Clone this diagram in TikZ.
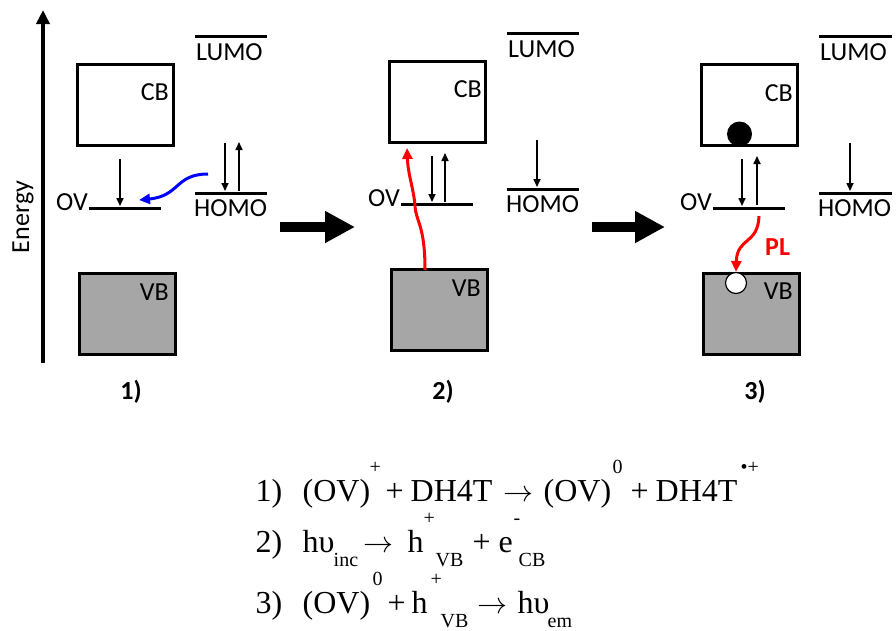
\documentclass[tikz,border=0pt]{standalone}
\usepackage{graphicx}
\usepackage{fontspec}
\setmainfont{Liberation Serif}
\newfontfamily\carl{Carlito}
\usetikzlibrary{arrows.meta}
\definecolor{vbgray}{HTML}{A6A6A6}
\definecolor{pblue}{HTML}{0000FF}
\definecolor{pred}{HTML}{FF0000}
\newcommand\pc[2]{\rlap{\hspace*{\dimexpr #1pt-255pt\relax}#2}}
\newcommand\upx[1]{\raisebox{28pt}{\fontsize{20}{20}\selectfont #1}}
\newcommand\dnx[1]{\raisebox{-14pt}{\fontsize{20}{20}\selectfont #1}}
\newcommand\rarr{\resizebox{30pt}{!}{\normalsize$\rightarrow$}}
\begin{document}
\begin{tikzpicture}[x=1pt,y=-1pt,
  lbl/.style={font=\carl\fontsize{26}{26}\selectfont, inner sep=0pt},
  steplbl/.style={font=\carl\bfseries\fontsize{26}{26}\selectfont, inner sep=0pt},
  eq/.style={font=\fontsize{32}{32}\selectfont, inner sep=0pt, anchor=base west},
  cbbox/.style={draw, line width=3pt, minimum width=96pt, minimum height=81pt, inner sep=0pt},
  vbbox/.style={cbbox, fill=vbgray},
  lvl/.style={line width=3pt},
  sarr/.style={line width=1.6pt, -{Triangle[length=8pt,width=7pt]}},
  axis/.style={line width=4pt, -{Triangle[length=14pt,width=13pt]}},
  blockarr/.style={line width=10pt, -{Triangle[length=30pt,width=30pt]}},
  carr/.style={line width=3pt, -{Triangle[length=11pt,width=10pt]}},
]
\fill[white] (0,0) rectangle (896,630);
\useasboundingbox (0,0) rectangle (896,630);

% energy axis
\coordinate (ax0) at (43,363);
\coordinate (ax1) at (43,10);
\draw[axis] (ax0) -- (ax1);
\node[lbl, rotate=90, anchor=base] (energy) at (29,217) {Energy};

% ---------- panel 1 ----------
\node[cbbox] (cb1) at (125,105) {};
\node[vbbox] (vb1) at (127,314) {};
\node[lbl, anchor=base east] (cbt1) at (169,100) {CB};
\node[lbl, anchor=base east] (vbt1) at (169,300) {VB};
\coordinate (ov1a) at (89,208); \coordinate (ov1b) at (161,208);
\draw[lvl] (ov1a) -- (ov1b);
\node[lbl, anchor=base east] (ovt1) at (88,210) {OV};
\coordinate (lu1a) at (195,36); \coordinate (lu1b) at (267,36);
\draw[lvl] (lu1a) -- (lu1b);
\node[lbl, anchor=base west] (lut1) at (196,60) {LUMO};
\coordinate (ho1a) at (195,193); \coordinate (ho1b) at (267,193);
\draw[lvl] (ho1a) -- (ho1b);
\node[lbl, anchor=base west] (hot1) at (194,216) {HOMO};
\coordinate (a1s) at (120,159); \coordinate (a1e) at (120,206);
\draw[sarr] (a1s) -- (a1e);
\coordinate (a2s) at (225,143); \coordinate (a2e) at (225,191);
\draw[sarr] (a2s) -- (a2e);
\coordinate (a3s) at (239,191); \coordinate (a3e) at (239,142);
\draw[sarr] (a3s) -- (a3e);
\coordinate (bl1) at (208,174); \coordinate (bl2) at (139,200);
\draw[carr, pblue] (bl1) .. controls (175,174) and (180,196) .. (bl2);
\node[steplbl, anchor=base] (s1) at (131,399) {1)};

% block arrow 1
\coordinate (b1s) at (280,227); \coordinate (b1e) at (355,227);
\draw[blockarr] (b1s) -- (b1e);

% ---------- panel 2 ----------
\node[cbbox] (cb2) at (437,102) {};
\node[vbbox] (vb2) at (439,310) {};
\node[lbl, anchor=base east] (cbt2) at (482,97) {CB};
\node[lbl, anchor=base east] (vbt2) at (481,296) {VB};
\coordinate (ov2a) at (401,204); \coordinate (ov2b) at (473,204);
\draw[lvl] (ov2a) -- (ov2b);
\node[lbl, anchor=base east] (ovt2) at (400,206) {OV};
\coordinate (lu2a) at (507,33); \coordinate (lu2b) at (579,33);
\draw[lvl] (lu2a) -- (lu2b);
\node[lbl, anchor=base west] (lut2) at (508,57) {LUMO};
\coordinate (ho2a) at (507,189); \coordinate (ho2b) at (579,189);
\draw[lvl] (ho2a) -- (ho2b);
\node[lbl, anchor=base west] (hot2) at (506,212) {HOMO};
\coordinate (a4s) at (432,156); \coordinate (a4e) at (432,202);
\draw[sarr] (a4s) -- (a4e);
\coordinate (a5s) at (445,202); \coordinate (a5e) at (445,153);
\draw[sarr] (a5s) -- (a5e);
\coordinate (a6s) at (537,140); \coordinate (a6e) at (537,187);
\draw[sarr] (a6s) -- (a6e);
\coordinate (rd1) at (425,270); \coordinate (rd2) at (407,148);
\draw[carr, pred] (rd1) .. controls (425,225) and (416,222) .. (415,206)
  .. controls (414,190) and (408,175) .. (rd2);
\node[steplbl, anchor=base] (s2) at (443,399) {2)};

% block arrow 2
\coordinate (b2s) at (592,227); \coordinate (b2e) at (665,227);
\draw[blockarr] (b2s) -- (b2e);

% ---------- panel 3 ----------
\node[cbbox] (cb3) at (749,105) {};
\node[vbbox] (vb3) at (751,314) {};
\node[lbl, anchor=base east] (cbt3) at (793,101) {CB};
\node[lbl, anchor=base east] (vbt3) at (793,299) {VB};
\node[circle, fill=black, minimum size=25pt, inner sep=0pt] (el3) at (739.5,134) {};
\node[circle, draw, fill=white, line width=1.2pt, minimum size=21pt, inner sep=0pt] (ho3) at (736,283) {};
\coordinate (ov3a) at (713,208); \coordinate (ov3b) at (785,208);
\draw[lvl] (ov3a) -- (ov3b);
\node[lbl, anchor=base east] (ovt3) at (712,210) {OV};
\coordinate (lu3a) at (819,36); \coordinate (lu3b) at (892,36);
\draw[lvl] (lu3a) -- (lu3b);
\node[lbl, anchor=base west] (lut3) at (820,60) {LUMO};
\coordinate (ho3a) at (819,193); \coordinate (ho3b) at (892,193);
\draw[lvl] (ho3a) -- (ho3b);
\node[lbl, anchor=base west] (hot3) at (818,216) {HOMO};
\coordinate (a7s) at (742,159); \coordinate (a7e) at (742,206);
\draw[sarr] (a7s) -- (a7e);
\coordinate (a8s) at (757,205); \coordinate (a8e) at (757,156);
\draw[sarr] (a8s) -- (a8e);
\coordinate (a9s) at (850,143); \coordinate (a9e) at (850,191);
\draw[sarr] (a9s) -- (a9e);
\coordinate (pl1) at (759,216);
\draw[carr, pred] (pl1) .. controls (758,245) and (737,237) .. (ho3.north);
\node[lbl, font=\carl\bfseries\fontsize{26}{26}\selectfont, text=pred, anchor=base west] (plt) at (765,255) {PL};
\node[steplbl, anchor=base] (s3) at (755,399) {3)};

% ---------- equations ----------
\node[eq] (eq1) at (255,501) {\pc{255}{1)}\pc{302}{(OV)}\pc{369}{\upx{+}}\pc{385}{+}\pc{410}{DH4T}\pc{503}{\rarr}\pc{543}{(OV)}\pc{612}{\upx{0}}\pc{630}{+}\pc{655}{DH4T}\pc{740}{\upx{•+}}};
\node[eq] (eq2) at (255,552) {\pc{255}{2)}\pc{302}{hυ}\pc{333}{\dnx{inc}}\pc{363}{\rarr}\pc{407}{h}\pc{423}{\upx{+}}\pc{435}{\dnx{VB}}\pc{472}{+}\pc{498}{e}\pc{513}{\upx{-}}\pc{518}{\dnx{CB}}};
\node[eq] (eq3) at (255,613) {\pc{255}{3)}\pc{302}{(OV)}\pc{372}{\upx{0}}\pc{387}{+}\pc{411}{h}\pc{430}{\upx{+}}\pc{440}{\dnx{VB}}\pc{477}{\rarr}\pc{517}{hυ}\pc{547}{\dnx{em}}};
\end{tikzpicture}
\end{document}
